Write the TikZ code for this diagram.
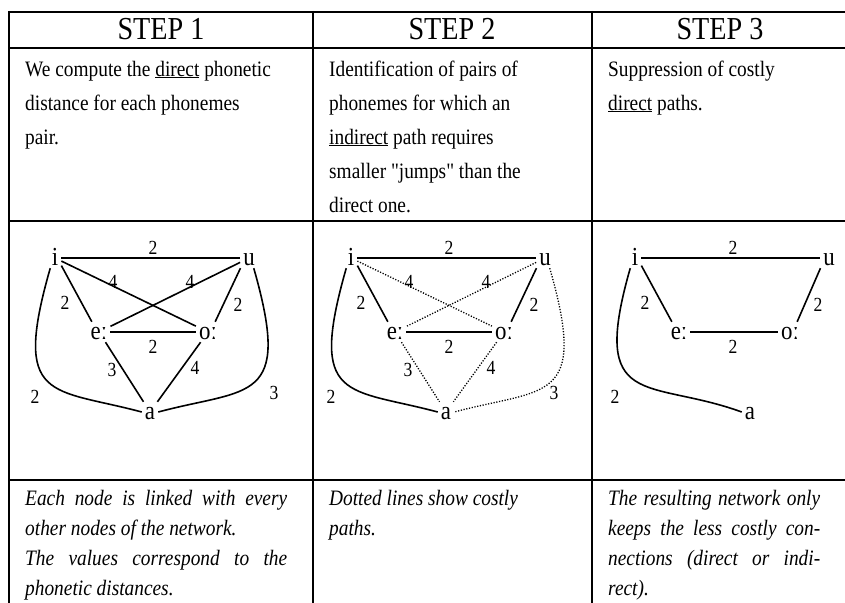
\documentclass[tikz,border=0pt]{standalone}
\usepackage{fontspec}
\setmainfont{Liberation Serif}[Ligatures=TeXOff, FakeStretch=0.88]
\begin{document}
\begin{tikzpicture}[x=1pt,y=-1pt,
  tbl/.style={line width=2pt},
  hdr/.style={font=\fontsize{32}{32}\selectfont, anchor=base, inner sep=0pt},
  body/.style={font=\fontsize{22}{22}\selectfont, anchor=base west, inner sep=0pt},
  note/.style={font=\fontsize{22}{22}\selectfont\itshape, anchor=base west, inner sep=0pt},
  ph/.style={font=\fontsize{26}{26}\selectfont, inner sep=3pt, text height=14pt, text depth=0pt, anchor=base},
  num/.style={font=\fontsize{20}{20}\selectfont, inner sep=0pt},
  link/.style={line width=1.6pt},
  costly/.style={line width=1.3pt, dash pattern=on 1.2pt off 1.6pt},
  bow/.style={out looseness=2.1, in looseness=1.4},
]
\useasboundingbox (0,0) rectangle (845,602);
\clip (0,0) rectangle (845,602);
% table rules
\draw[tbl] (9,12) -- (870,12);
\draw[tbl] (9,48) -- (870,48);
\draw[tbl] (9,221) -- (870,221);
\draw[tbl] (9,480) -- (870,480);
\draw[tbl] (9,11) -- (9,610);
\draw[tbl] (313,11) -- (313,610);
\draw[tbl] (592,11) -- (592,610);
% headers
\node[hdr] (h1) at (161,40) {STEP 1};
\node[hdr] (h2) at (452,40) {STEP 2};
\node[hdr] (h3) at (720,40) {STEP 3};
% top texts
\node[body] (t11) at (25,76) {We compute the \underline{direct} phonetic};
\node[body] (t12) at (25,110) {distance for each phonemes};
\node[body] (t13) at (25,144) {pair.};
\node[body] (t21) at (329,76) {Identification of pairs of};
\node[body] (t22) at (329,110) {phonemes for which an};
\node[body] (t23) at (329,144) {\underline{indirect} path requires};
\node[body] (t24) at (329,178) {smaller "jumps" than the};
\node[body] (t25) at (329,212) {direct one.};
\node[body] (t31) at (608,76) {Suppression of costly};
\node[body] (t32) at (608,110) {\underline{direct} paths.};
% bottom texts
\node[note] (b11) at (25,505) {\makebox[262pt][s]{Each node is linked with every}};
\node[note] (b12) at (25,535) {other nodes of the network.};
\node[note] (b13) at (25,565) {\makebox[262pt][s]{The values correspond to the}};
\node[note] (b14) at (25,595) {phonetic distances.};
\node[note] (b21) at (329,505) {Dotted lines show costly};
\node[note] (b22) at (329,535) {paths.};
\node[note] (b31) at (608,505) {\makebox[212pt][s]{The resulting network only}};
\node[note] (b32) at (608,535) {\makebox[212pt][s]{keeps the less costly con-}};
\node[note] (b33) at (608,565) {\makebox[212pt][s]{nections (direct or indi-}};
\node[note] (b34) at (608,595) {rect).};
% ---------- graph 1
\node[ph] (i1) at (55,265) {i};
\node[ph] (u1) at (249,265) {u};
\node[ph] (e1) at (99,339) {eː};
\node[ph] (o1) at (208,339) {oː};
\node[ph] (a1) at (150,419) {a};
\draw[link] (i1) -- (u1);
\draw[link] (i1) -- (o1);
\draw[link] (u1) -- (e1);
\draw[link] (i1.-50) -- (e1.125);
\draw[link] (u1.-130) -- (o1.55);
\draw[link] (e1) -- (o1);
\draw[link] (e1) -- (a1);
\draw[link] (o1) -- (a1);
\draw[link] (i1.-115) to[out=-106,in=165,bow] (a1.west);
\draw[link] (u1.-65) to[out=-74,in=15,bow] (a1.east);
\node[num] (n1a) at (153,248) {2};
\node[num] (n1b) at (113,282) {4};
\node[num] (n1c) at (190,282) {4};
\node[num] (n1d) at (65,303) {2};
\node[num] (n1e) at (238,305) {2};
\node[num] (n1f) at (153,347) {2};
\node[num] (n1g) at (112,370) {3};
\node[num] (n1h) at (195,368) {4};
\node[num] (n1i) at (35,397) {2};
\node[num] (n1j) at (274,393) {3};
% ---------- graph 2
\node[ph] (i2) at (351,265) {i};
\node[ph] (u2) at (545,265) {u};
\node[ph] (e2) at (395,339) {eː};
\node[ph] (o2) at (504,339) {oː};
\node[ph] (a2) at (446,419) {a};
\draw[link] (i2) -- (u2);
\draw[costly] (i2) -- (o2);
\draw[costly] (u2) -- (e2);
\draw[link] (i2.-50) -- (e2.125);
\draw[link] (u2.-130) -- (o2.55);
\draw[link] (e2) -- (o2);
\draw[costly] (e2) -- (a2);
\draw[costly] (o2) -- (a2);
\draw[link] (i2.-115) to[out=-106,in=165,bow] (a2.west);
\draw[costly] (u2.-65) to[out=-74,in=15,bow] (a2.east);
\node[num] (n2a) at (449,248) {2};
\node[num] (n2b) at (409,282) {4};
\node[num] (n2c) at (486,282) {4};
\node[num] (n2d) at (361,303) {2};
\node[num] (n2e) at (534,305) {2};
\node[num] (n2f) at (449,347) {2};
\node[num] (n2g) at (408,370) {3};
\node[num] (n2h) at (491,368) {4};
\node[num] (n2i) at (331,397) {2};
\node[num] (n2j) at (554,393) {3};
% ---------- graph 3
\node[ph] (i3) at (635,265) {i};
\node[ph] (u3) at (829,265) {u};
\node[ph] (e3) at (679,339) {eː};
\node[ph] (o3) at (790,339) {oː};
\node[ph] (a3) at (750,419) {a};
\draw[link] (i3) -- (u3);
\draw[link] (i3.-50) -- (e3.125);
\draw[link] (u3.-130) -- (o3.55);
\draw[link] (e3) -- (o3);
\draw[link] (i3.-115) to[out=-106,in=160,bow] (a3.west);
\node[num] (n3a) at (733,248) {2};
\node[num] (n3d) at (645,303) {2};
\node[num] (n3e) at (818,305) {2};
\node[num] (n3f) at (733,347) {2};
\node[num] (n3i) at (615,397) {2};
\end{tikzpicture}
\end{document}
